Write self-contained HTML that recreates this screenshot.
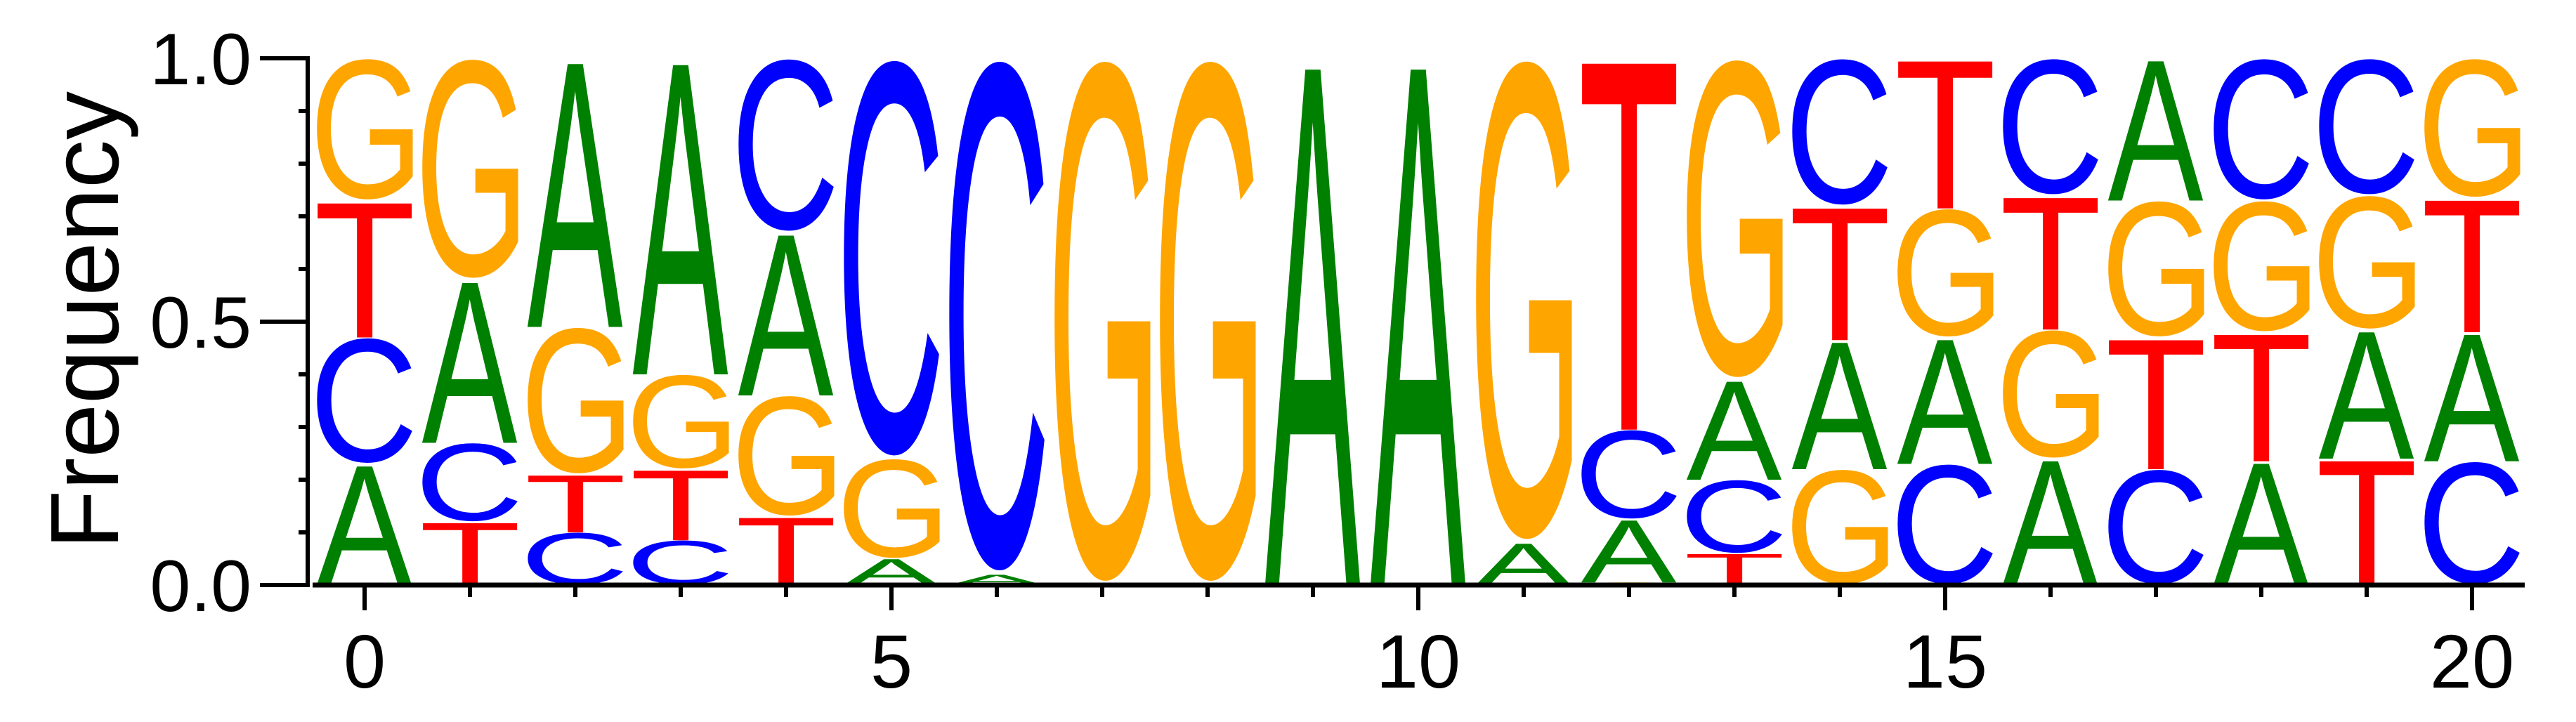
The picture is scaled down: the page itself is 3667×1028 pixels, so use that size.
<!DOCTYPE html>
<html><head><meta charset="utf-8"><style>
html,body{margin:0;padding:0;background:#fff;}
svg{display:block;font-family:"Liberation Sans",Arial,sans-serif;}
</style></head><body>
<svg id="chart" width="3667" height="1028" viewBox="0 0 3667 1028">
<g id="letters"></g>
<g id="axes"></g>
</svg>
<script>
const positions = [0,1,2,3,4,5,6,7,8,9,10,11,12,13,14,15,16,17,18,19,20];
const freqA = [0.23,0.31,0.51,0.60,0.31,0.05,0.02,0.00,0.00,1.00,1.00,0.08,0.12,0.19,0.245,0.24,0.24,0.27,0.235,0.245,0.245];
const freqC = [0.24,0.15,0.10,0.085,0.33,0.76,0.98,0.00,0.00,0.00,0.00,0.00,0.17,0.14,0.28,0.23,0.26,0.22,0.27,0.26,0.235];
const freqG = [0.27,0.42,0.28,0.18,0.23,0.19,0.00,1.00,1.00,0.00,0.00,0.92,0.005,0.61,0.22,0.245,0.245,0.26,0.25,0.255,0.265];
const freqT = [0.26,0.12,0.11,0.135,0.13,0.00,0.00,0.00,0.00,0.00,0.00,0.00,0.71,0.06,0.255,0.285,0.255,0.25,0.245,0.24,0.255];
const yTicks = [0.0,0.5,1.0];
const yTickLabels = ["0.0","0.5","1.0"];
const xTicks = [0,5,10,15,20];

const NS = "http://www.w3.org/2000/svg";
const X0 = 519, DX = 150, Y0 = 833, Y1 = 83;
function xs(p){ return X0 + p*DX; }
function ys(v){ return Y0 - v*(Y0-Y1); }
const colors = {A:"#008000",C:"#0000ff",G:"#ffa500",T:"#ff0000"};
const cv = document.createElement("canvas").getContext("2d");
cv.font = "400px 'Liberation Sans', Arial, sans-serif";
const metrics = {};
["A","C","G","T"].forEach(ch=>{
  const m = cv.measureText(ch);
  metrics[ch] = {l:-m.actualBoundingBoxLeft, r:m.actualBoundingBoxRight, a:m.actualBoundingBoxAscent, d:m.actualBoundingBoxDescent};
});
const letters = document.getElementById("letters");
const LW = 137;
positions.forEach((p,i)=>{
  const entries = [["A",freqA[i]],["C",freqC[i]],["G",freqG[i]],["T",freqT[i]]].filter(e=>e[1]>0).sort((a,b)=>a[1]-b[1]);
  let acc = 0;
  entries.forEach(([ch,f])=>{
    const yb = ys(acc), yt = ys(acc+f);
    acc += f;
    const h = yb - yt;
    if (h < 0.5) return;
    const m = metrics[ch];
    const w = m.r - m.l, hh = m.a + m.d;
    const sx = LW / w, sy = h / hh;
    const t = document.createElementNS(NS,"text");
    
    
    t.setAttribute("x", -m.l);
    t.setAttribute("y", m.a);
    t.setAttribute("font-size", "400");
    t.setAttribute("fill", colors[ch]);
    t.setAttribute("transform", `translate(${xs(p)-LW/2},${yt}) scale(${sx},${sy})`);
    t.textContent = ch;
    letters.appendChild(t);
  });
});
const axes = document.getElementById("axes");
function line(x1,y1,x2,y2,w,name){
  const l = document.createElementNS(NS,"line");
  
  
  l.setAttribute("x1",x1);l.setAttribute("y1",y1);l.setAttribute("x2",x2);l.setAttribute("y2",y2);
  l.setAttribute("stroke","#000");l.setAttribute("stroke-width",w);
  axes.appendChild(l);
}
function text(x,y,s,size,anchor,name,rot){
  const t = document.createElementNS(NS,"text");
  
  
  t.setAttribute("x",x);t.setAttribute("y",y);
  t.setAttribute("font-size",size);t.setAttribute("text-anchor",anchor);
  if(rot) t.setAttribute("transform",`rotate(-90 ${x} ${y})`);
  t.textContent = s;
  axes.appendChild(t);
}
line(438,Y1-3,438,Y0+3,6,"y-axis-line");
line(445,Y0,3594,Y0,7,"x-axis-line");
for(let k=0;k<=10;k++){
  const v=k/10;
  const major = (k%5===0);
  line(major?370:425, ys(v), 438, ys(v), 6, major?"y-major-tick":"y-minor-tick");
}
yTicks.forEach((v,i)=>text(358, ys(v)+37, yTickLabels[i], 104, "end", "y-tick-label"));
positions.forEach(p=>{
  const major = xTicks.includes(p);
  line(xs(p), Y0, xs(p), major?869:850, 6, major?"x-major-tick":"x-minor-tick");
});
xTicks.forEach(p=>text(xs(p), 979, String(p), 108, "middle", "x-tick-label"));
text(168, 456, "Frequency", 138, "middle", "y-axis-title", true);
</script>
</body></html>
